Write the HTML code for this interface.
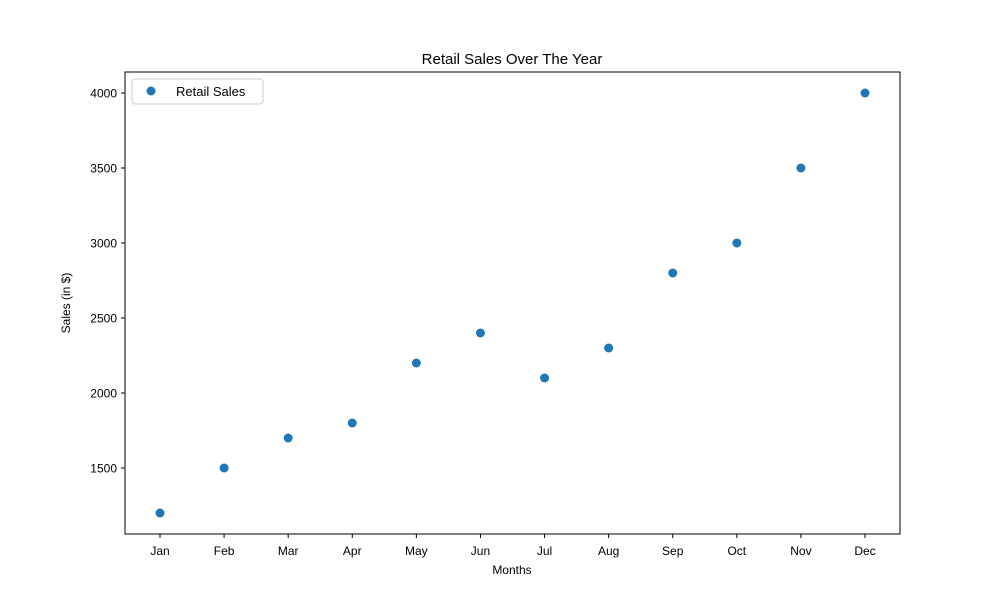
<!DOCTYPE html>
<html><head><meta charset="utf-8"><style>
body{margin:0;background:#fff}
svg{display:block;font-family:"Liberation Sans","DejaVu Sans",sans-serif}
</style></head><body>
<svg id="chart" width="1000" height="600">
<rect width="1000" height="600" fill="#fff"/>
<text x="512" y="64" text-anchor="middle" font-size="15">Retail Sales Over The Year</text>
<g id="plot"></g>
<rect x="125" y="72" width="775" height="462" fill="none" stroke="#000" stroke-width="1"/>
<text x="512" y="574" text-anchor="middle" font-size="12">Months</text>
<text transform="translate(70,303) rotate(-90)" text-anchor="middle" font-size="12">Sales (in $)</text>
<g>
<rect x="132" y="79" width="131" height="25" rx="3" fill="#fff" stroke="#ccc"/>
<circle cx="151" cy="91" r="4.5" fill="#1f77b4"/>
<text x="176" y="96" font-size="13">Retail Sales</text>
</g>
</svg>
<script>
const months=["Jan","Feb","Mar","Apr","May","Jun","Jul","Aug","Sep","Oct","Nov","Dec"];
const sales=[1200,1500,1700,1800,2200,2400,2100,2300,2800,3000,3500,4000];
const yTicks=[1500,2000,2500,3000,3500,4000];
const NS="http://www.w3.org/2000/svg";
const g=document.getElementById('plot');
const xs=i=>160+i*(705/11);
const ys=v=>468-(v-1500)*0.15;
function mk(t,a){const e=document.createElementNS(NS,t);for(const k in a)e.setAttribute(k,a[k]);g.appendChild(e);return e;}
yTicks.forEach(v=>{
 const l=mk('line',{x1:121,x2:125,y1:ys(v),y2:ys(v),stroke:'#000'});
 
 
 const t=mk('text',{x:117,y:ys(v)+4.5,'text-anchor':'end','font-size':12});
 t.textContent=v;
 
 
});
months.forEach((m,i)=>{
 const l=mk('line',{x1:xs(i),x2:xs(i),y1:534,y2:538,stroke:'#000'});
 
 
 const t=mk('text',{x:xs(i),y:555,'text-anchor':'middle','font-size':12});
 t.textContent=m;
 
 
});
sales.forEach((v,i)=>{
 const c=mk('circle',{cx:xs(i),cy:ys(v),r:4.5,fill:'#1f77b4'});
 
 
});
</script>
</body></html>
